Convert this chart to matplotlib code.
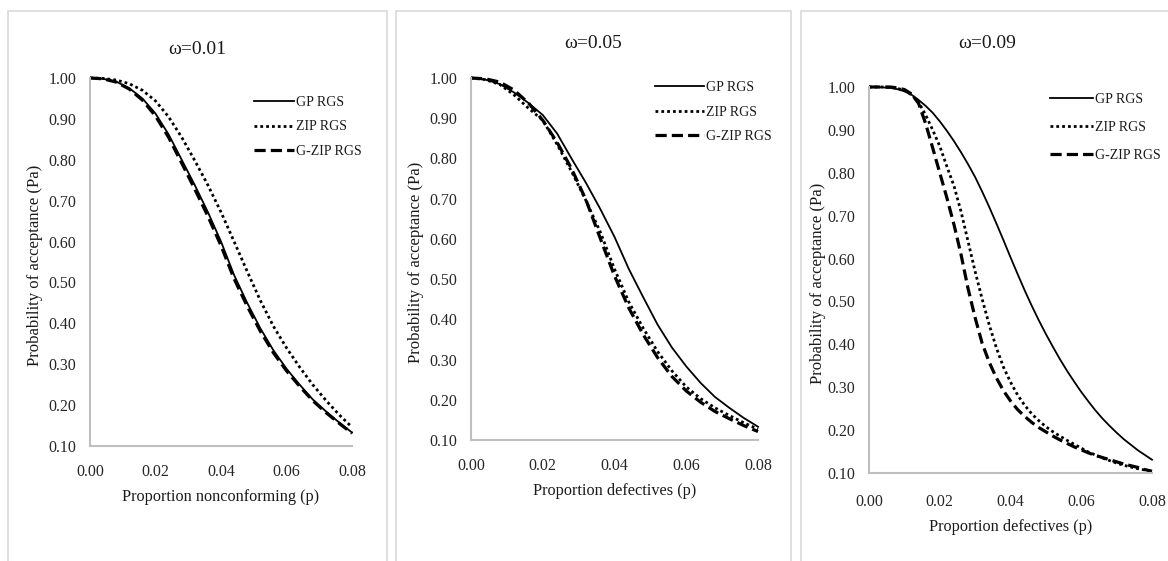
import matplotlib
matplotlib.use("Agg")
import matplotlib.pyplot as plt
from matplotlib.patches import Rectangle

W, H = 1168, 561

# proportion grid for panels 1 and 2 (step 0.004) and panel 3 (step 0.002)
p12 = [0.000, 0.004, 0.008, 0.012, 0.016, 0.020, 0.024, 0.028, 0.032, 0.036, 0.040,
       0.044, 0.048, 0.052, 0.056, 0.060, 0.064, 0.068, 0.072, 0.076, 0.080]
p3 = [i * 0.002 for i in range(41)]

# omega = 0.01
gp_1 = [1.000, 0.998, 0.991, 0.975, 0.950, 0.913, 0.862, 0.800, 0.738, 0.672, 0.600,
        0.518, 0.450, 0.388, 0.334, 0.289, 0.250, 0.214, 0.185, 0.158, 0.133]
zip_1 = [1.000, 0.999, 0.995, 0.986, 0.970, 0.944, 0.905, 0.855, 0.798, 0.738, 0.672,
         0.600, 0.527, 0.456, 0.393, 0.340, 0.293, 0.250, 0.212, 0.177, 0.146]
gzip_1 = [1.000, 0.998, 0.990, 0.973, 0.946, 0.907, 0.855, 0.792, 0.728, 0.662, 0.590,
          0.509, 0.442, 0.381, 0.328, 0.284, 0.246, 0.211, 0.182, 0.156, 0.131]

# omega = 0.05
gp_2 = [1.000, 0.996, 0.985, 0.964, 0.938, 0.908, 0.862, 0.800, 0.740, 0.675, 0.605,
        0.525, 0.455, 0.387, 0.330, 0.283, 0.242, 0.207, 0.180, 0.155, 0.133]
zip_2 = [1.000, 0.996, 0.984, 0.958, 0.925, 0.895, 0.835, 0.768, 0.696, 0.618, 0.525,
         0.443, 0.378, 0.320, 0.272, 0.232, 0.203, 0.180, 0.161, 0.143, 0.127]
gzip_2 = [1.000, 0.998, 0.990, 0.970, 0.938, 0.895, 0.840, 0.775, 0.698, 0.602, 0.508,
          0.428, 0.362, 0.305, 0.258, 0.222, 0.194, 0.171, 0.153, 0.136, 0.121]

# omega = 0.09
gp_3 = [1.000, 1.000, 0.999, 0.998, 0.995, 0.990, 0.982, 0.970, 0.956, 0.940, 0.920,
        0.898, 0.874, 0.848, 0.820, 0.790, 0.756, 0.720, 0.682, 0.643, 0.603,
        0.564, 0.526, 0.490, 0.456, 0.424, 0.394, 0.365, 0.338, 0.313, 0.289,
        0.267, 0.246, 0.227, 0.210, 0.194, 0.179, 0.166, 0.153, 0.142, 0.131]
zip_3 = [1.000, 1.000, 1.000, 0.999, 0.997, 0.992, 0.982, 0.965, 0.935, 0.900, 0.862,
         0.815, 0.770, 0.710, 0.640, 0.570, 0.505, 0.445, 0.392, 0.347, 0.312,
         0.282, 0.258, 0.238, 0.222, 0.208, 0.196, 0.186, 0.176, 0.167, 0.158,
         0.149, 0.142, 0.135, 0.129, 0.123, 0.118, 0.114, 0.110, 0.107, 0.104]
gzip_3 = [1.000, 1.000, 1.000, 1.000, 0.998, 0.994, 0.984, 0.962, 0.915, 0.858, 0.800,
          0.742, 0.680, 0.610, 0.530, 0.462, 0.402, 0.358, 0.322, 0.292, 0.268,
          0.248, 0.232, 0.218, 0.206, 0.196, 0.186, 0.177, 0.169, 0.161, 0.154,
          0.147, 0.141, 0.136, 0.131, 0.126, 0.121, 0.117, 0.113, 0.108, 0.104]

titles = ["\u03c9=0.01", "\u03c9=0.05", "\u03c9=0.09"]
xlabels = ["Proportion nonconforming (p)", "Proportion defectives (p)", "Proportion defectives (p)"]
ylabel = "Probability of acceptance (Pa)"
names = ["GP RGS", "ZIP RGS", "G-ZIP RGS"]
xticks = [0.00, 0.02, 0.04, 0.06, 0.08]
yticks = [0.1, 0.2, 0.3, 0.4, 0.5, 0.6, 0.7, 0.8, 0.9, 1.0]

plt.rcParams['font.family'] = ['Liberation Serif', 'DejaVu Serif']

fig = plt.figure(figsize=(W / 100, H / 100), dpi=100)

def fx(x):
    return x / W

def fy(y):
    return 1 - y / H

# panel frames: (left, right, top)
frames = [(8, 387, 11), (396, 791, 11), (801, 1180, 11)]
# axes boxes in pixels: (left, right, top, bottom)
boxes = [(90, 352, 78, 446), (471, 758, 78, 440), (869, 1152, 87, 473)]
title_pos = [(197, 50), (593, 43), (987, 43)]
xlab_y = [497, 491, 527]
ylab_x = [35, 416, 818]
# legend: left px, top px, handle length, label spacing
leg_opts = [(254, 96, 2.9, 0.82), (655, 81, 3.5, 0.84), (1050, 93, 3.1, 1.08)]
tick_pad = [13, 13, 15]

data = [(p12, gp_1, zip_1, gzip_1), (p12, gp_2, zip_2, gzip_2), (p3, gp_3, zip_3, gzip_3)]

for i in range(3):
    l, r, t = frames[i]
    fig.patches.append(Rectangle((fx(l), fy(H + 20)), fx(r - l), (H + 20 - t) / H,
                                 transform=fig.transFigure, fill=False,
                                 edgecolor='#d9d9d9', linewidth=1.2))
    al, ar, at, ab = boxes[i]
    ax = fig.add_axes([fx(al), fy(ab), fx(ar - al), (ab - at) / H])
    p, gp, zp, gz = data[i]
    ax.plot(p, gp, color='black', lw=1.3, ls='-', label=names[0], clip_on=False)
    ax.plot(p, zp, color='black', lw=2.0, ls=(0, (1, 1.1)), label=names[1], clip_on=False)
    ax.plot(p, gz, color='black', lw=2.3, ls=(0, (3.5, 1.6)), label=names[2], clip_on=False)
    ax.set_xlim(0, 0.08)
    ax.set_ylim(0.1, 1.0)
    ax.set_xticks(xticks)
    ax.set_yticks(yticks)
    ax.set_xticklabels([f"{v:.2f}" for v in xticks])
    ax.set_yticklabels([f"{v:.2f}" for v in yticks])
    ax.tick_params(length=0, labelsize=11.5, colors='#262626')
    ax.tick_params(axis='x', pad=tick_pad[i])
    ax.tick_params(axis='y', pad=10)
    for s in ['top', 'right']:
        ax.spines[s].set_visible(False)
    for s in ['left', 'bottom']:
        ax.spines[s].set_color('#bfbfbf')
        ax.spines[s].set_linewidth(1.5)

    tx, ty = title_pos[i]
    fig.text(fx(tx), fy(ty), titles[i], ha='center', va='center', fontsize=14, color='#1a1a1a')
    fig.text(fx((al + ar) / 2), fy(xlab_y[i]), xlabels[i], ha='center', va='center',
             fontsize=11.7, color='#1a1a1a')
    fig.text(fx(ylab_x[i]), fy((at + ab) / 2 + 3), ylabel, ha='center', va='center',
             rotation=90, fontsize=12, color='#1a1a1a')

    lx, ly, hl, ls = leg_opts[i]
    leg = ax.legend(loc='upper left', bbox_to_anchor=(fx(lx), fy(ly)),
                    bbox_transform=fig.transFigure, frameon=False, fontsize=10,
                    handlelength=hl, handletextpad=0.15, labelspacing=ls,
                    borderpad=0, borderaxespad=0)
    for txt in leg.get_texts():
        txt.set_color('#1a1a1a')

fig.savefig("out.png", dpi=100)
